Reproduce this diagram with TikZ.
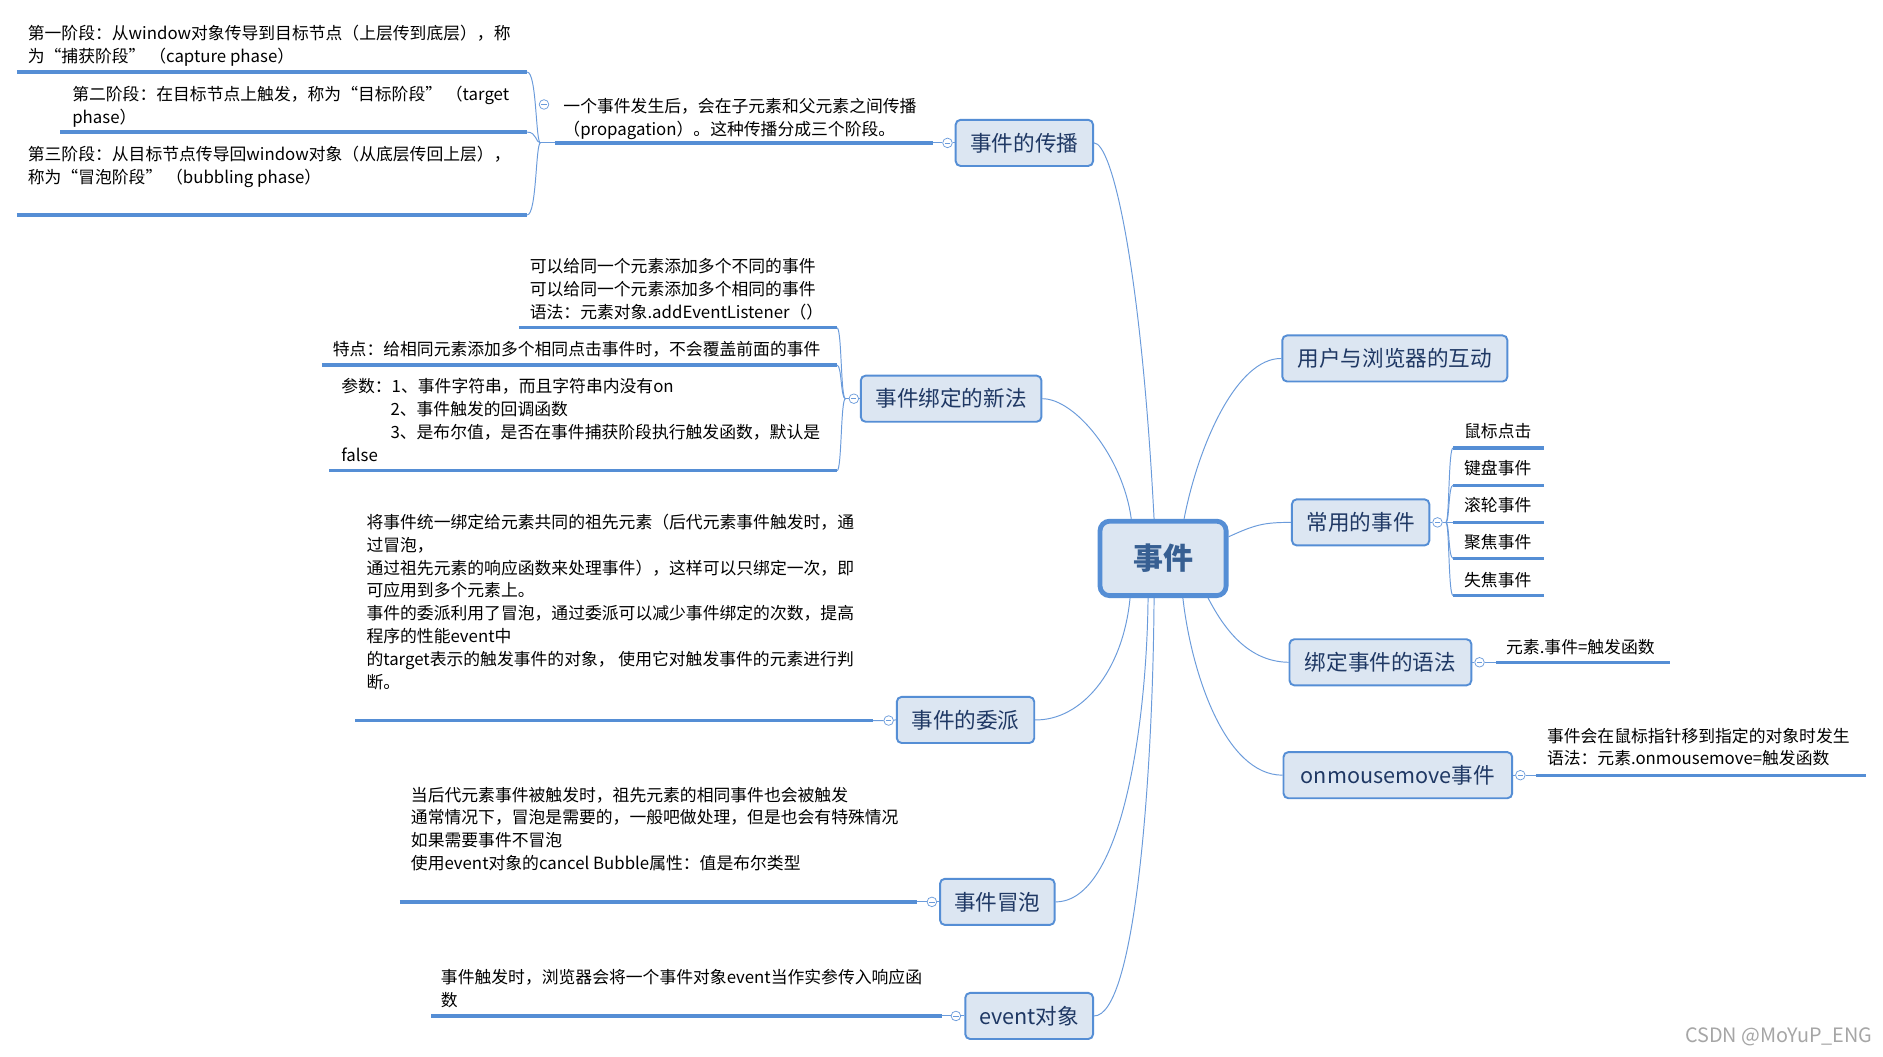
\documentclass[tikz,border=0pt]{standalone}
\usepackage{fontspec}
\setmainfont{Noto Sans CJK SC}
\usetikzlibrary{calc}
\definecolor{bord}{HTML}{558ED5}
\definecolor{boxfill}{HTML}{DCE6F2}
\definecolor{navy}{HTML}{1F3864}
\definecolor{ctext}{HTML}{375F92}
\definecolor{wirec}{HTML}{6A9BDB}
\definecolor{wmark}{HTML}{A6A6A6}
\newcommand\mltext[1]{\vtop{\baselineskip=19pt\lineskiplimit=-100pt\halign{##\hfil\cr#1\crcr}}}
\tikzset{
  central/.style={draw=bord, line width=4pt, fill=boxfill, rounded corners=8pt, inner sep=0pt,
    font=\fontsize{25}{25}\selectfont\bfseries, text=ctext},
  branch/.style={draw=bord, line width=1.6pt, fill=boxfill, rounded corners=4pt, inner sep=0pt,
    minimum height=38.4pt, font=\fontsize{18}{18}\selectfont, text=navy},
  detail/.style={anchor=base west, inner sep=0pt, font=\fontsize{14}{19}\selectfont, text=black},
  uline/.style={draw=bord, line width=2.7pt},
  wire/.style={draw=wirec, line width=0.8pt},
  knob/.style={circle, draw=wirec, fill=white, line width=0.6pt, minimum size=8pt, inner sep=0pt,
    path picture={\draw[draw=wirec, line width=0.6pt] ([xshift=-2.2pt]path picture bounding box.center) -- ([xshift=2.2pt]path picture bounding box.center);}},
}
\begin{document}
\begin{tikzpicture}[x=1pt,y=-1pt]
\useasboundingbox (0,0) rectangle (1568,880);
\fill[white] (0,0) rectangle (1568,880);

% ---------- central node ----------
\node[central, minimum width=105pt, minimum height=62pt] (C) at (968.5,465) {事件};
\coordinate (Ct1) at ($(C.north west)+(28,0)$);
\coordinate (Ct2) at ($(C.north west)+(47,0)$);
\coordinate (Ct3) at ($(C.north west)+(72,0)$);
\coordinate (Cr)  at ($(C.east)+(0,-18)$);
\coordinate (Cb1) at ($(C.south west)+(27,0)$);
\coordinate (Cb2) at ($(C.south west)+(42,0)$);
\coordinate (Cb3) at ($(C.south west)+(47,0)$);
\coordinate (Cb4) at ($(C.south west)+(71,0)$);
\coordinate (Cb5) at ($(C.south west)+(92,0)$);

% ---------- branch nodes ----------
\node[branch, minimum width=114.4pt] (B1) at (853,119) {事件的传播};
\node[branch, minimum width=150.4pt] (B2) at (792,332) {事件绑定的新法};
\node[branch, minimum width=114.4pt] (B3) at (804,599.5) {事件的委派};
\node[branch, minimum width=95.4pt]  (B4) at (830.5,751) {事件冒泡};
\node[branch, minimum width=106.4pt] (B5) at (857,846) {event对象};
\node[branch, minimum width=187.4pt] (B6) at (1161.5,298.5) {用户与浏览器的互动};
\node[branch, minimum width=114.4pt] (B7) at (1133,435) {常用的事件};
\node[branch, minimum width=151.4pt] (B8) at (1149.5,551.5) {绑定事件的语法};
\node[branch, minimum width=190.4pt] (B9) at (1164,645.5) {onmousemove事件};

% ---------- central connectors ----------
\draw[wire] (B2.east) .. controls (895,332) and (935,380) .. (Ct1);
\draw[wire] (B1.east) .. controls (926,119) and (950,220) .. (Ct2);
\draw[wire] (Ct3) .. controls (998,370) and (1030,298) .. (B6.west);
\draw[wire] (Cr) .. controls (1045,437) and (1052,435) .. (B7.west);
\draw[wire] (Cb1) .. controls (935,560) and (900,600) .. (B3.east);
\draw[wire] (Cb2) .. controls (955,600) and (935,751) .. (B4.east);
\draw[wire] (Cb3) .. controls (960,650) and (945,846) .. (B5.east);
\draw[wire] (Cb4) .. controls (992,560) and (1020,645.5) .. (B9.west);
\draw[wire] (Cb5) .. controls (1020,525) and (1040,551) .. (B8.west);

% ---------- branch 1: 事件的传播 ----------
\node[knob] (k1) at (789,119) {};
\coordinate (t1e) at (777,119);
\coordinate (t1s) at (462,119);
\coordinate (J1) at (450,119);
\draw[wire] (B1.west) -- (k1) -- (t1e);
\draw[uline] (t1s) -- (t1e);
\draw[wire] (J1) -- (t1s);
\node[detail] (T1) at (469,94) {\mltext{一个事件发生后，会在子元素和父元素之间传播\cr（propagation）。这种传播分成三个阶段。}};
\node[knob] (k1b) at (453,87) {};

\coordinate (p1e) at (439,60);
\coordinate (p2e) at (439,110);
\coordinate (p3e) at (439,179);
\draw[uline] (14,60) -- (p1e);
\draw[uline] (50,110) -- (p2e);
\draw[uline] (14,179) -- (p3e);
\draw[wire] (J1) .. controls (446,119) and (447,60) .. (p1e);
\draw[wire] (J1) .. controls (446,119) and (447,110) .. (p2e);
\draw[wire] (J1) .. controls (446,119) and (447,179) .. (p3e);
\node[detail] (P1) at (23,33) {\mltext{第一阶段：从window对象传导到目标节点（上层传到底层），称\cr 为“捕获阶段” （capture phase）}};
\node[detail] (P2) at (60,84) {\mltext{第二阶段：在目标节点上触发，称为“目标阶段” （target\cr phase）}};
\node[detail] (P3) at (23,134) {\mltext{第三阶段：从目标节点传导回window对象（从底层传回上层），\cr 称为“冒泡阶段” （bubbling phase）}};

% ---------- branch 2: 事件绑定的新法 ----------
\node[knob] (k2) at (711,332) {};
\coordinate (J2) at (704,332);
\draw[wire] (B2.west) -- (k2) -- (J2);
\coordinate (a1e) at (697,273);
\coordinate (a2e) at (697,304);
\coordinate (a3e) at (697,392);
\draw[uline] (432,273) -- (a1e);
\draw[uline] (268,304) -- (a2e);
\draw[uline] (274,392) -- (a3e);
\draw[wire] (J2) .. controls (700,332) and (701,273) .. (a1e);
\draw[wire] (J2) .. controls (700,332) and (701,304) .. (a2e);
\draw[wire] (J2) .. controls (700,332) and (701,392) .. (a3e);
\node[detail] (A1) at (441,227) {\mltext{可以给同一个元素添加多个不同的事件\cr 可以给同一个元素添加多个相同的事件\cr 语法：元素对象.addEventListener（）}};
\node[detail] (A2) at (277,296) {特点：给相同元素添加多个相同点击事件时，不会覆盖前面的事件};
\node[detail] (A3) at (284,327) {\mltext{参数：1、事件字符串，而且字符串内没有on\cr\kern41pt 2、事件触发的回调函数\cr\kern41pt 3、是布尔值，是否在事件捕获阶段执行触发函数，默认是\cr false}};

% ---------- branch 3: 事件的委派 ----------
\node[knob] (k3) at (740,600) {};
\coordinate (u3e) at (727,600);
\draw[wire] (B3.west) -- (k3) -- (u3e);
\draw[uline] (296,600) -- (u3e);
\node[detail] (D3) at (305,440) {\mltext{将事件统一绑定给元素共同的祖先元素（后代元素事件触发时，通\cr 过冒泡，\cr 通过祖先元素的响应函数来处理事件），这样可以只绑定一次，即\cr 可应用到多个元素上。\cr 事件的委派利用了冒泡，通过委派可以减少事件绑定的次数，提高\cr 程序的性能event中\cr 的target表示的触发事件的对象， 使用它对触发事件的元素进行判\cr 断。}};

% ---------- branch 4: 事件冒泡 ----------
\node[knob] (k4) at (776,751) {};
\coordinate (u4e) at (764,751);
\draw[wire] (B4.west) -- (k4) -- (u4e);
\draw[uline] (333,751) -- (u4e);
\node[detail] (D4) at (342,667) {\mltext{当后代元素事件被触发时，祖先元素的相同事件也会被触发\cr 通常情况下，冒泡是需要的，一般吧做处理，但是也会有特殊情况\cr 如果需要事件不冒泡\cr 使用event对象的cancel Bubble属性：值是布尔类型}};

% ---------- branch 5: event对象 ----------
\node[knob] (k5) at (796,846) {};
\coordinate (u5e) at (784,846);
\draw[wire] (B5.west) -- (k5) -- (u5e);
\draw[uline] (359,846) -- (u5e);
\node[detail] (D5) at (367,819) {\mltext{事件触发时，浏览器会将一个事件对象event当作实参传入响应函\cr 数}};

% ---------- branch 7: 常用的事件 ----------
\node[knob] (k7) at (1197,435) {};
\coordinate (J7) at (1204,435);
\draw[wire] (B7.east) -- (k7) -- (J7);
\coordinate (e1s) at (1210,373);
\coordinate (e2s) at (1210,404);
\coordinate (e3s) at (1210,435);
\coordinate (e4s) at (1210,465);
\coordinate (e5s) at (1210,496);
\draw[uline] (e1s) -- (1286,373);
\draw[uline] (e2s) -- (1286,404);
\draw[uline] (e3s) -- (1286,435);
\draw[uline] (e4s) -- (1286,465);
\draw[uline] (e5s) -- (1286,496);
\draw[wire] (J7) .. controls (1207,435) and (1206,373) .. (e1s);
\draw[wire] (J7) .. controls (1207,435) and (1206,404) .. (e2s);
\draw[wire] (J7) -- (e3s);
\draw[wire] (J7) .. controls (1207,435) and (1206,465) .. (e4s);
\draw[wire] (J7) .. controls (1207,435) and (1206,496) .. (e5s);
\node[detail] (E1) at (1219,364) {鼠标点击};
\node[detail] (E2) at (1219,395) {键盘事件};
\node[detail] (E3) at (1219,426) {滚轮事件};
\node[detail] (E4) at (1219,457) {聚焦事件};
\node[detail] (E5) at (1219,488) {失焦事件};

% ---------- branch 8: 绑定事件的语法 ----------
\node[knob] (k8) at (1232,551.5) {};
\coordinate (u8s) at (1246,551.5);
\draw[wire] (B8.east) -- (k8) -- (u8s);
\draw[uline] (u8s) -- (1391,551.5);
\node[detail] (D8) at (1254,544) {元素.事件=触发函数};

% ---------- branch 9: onmousemove事件 ----------
\node[knob] (k9) at (1266,645.5) {};
\coordinate (u9s) at (1279,645.5);
\draw[wire] (B9.east) -- (k9) -- (u9s);
\draw[uline] (u9s) -- (1554,645.5);
\node[detail] (D9) at (1288,618) {\mltext{事件会在鼠标指针移到指定的对象时发生\cr 语法：元素.onmousemove=触发函数}};

% ---------- watermark ----------
\node[anchor=base west, inner sep=0pt, font=\fontsize{16.5}{16.5}\selectfont, text=wmark] (WM) at (1403,868) {CSDN @MoYuP\_ENG};
\end{tikzpicture}
\end{document}
